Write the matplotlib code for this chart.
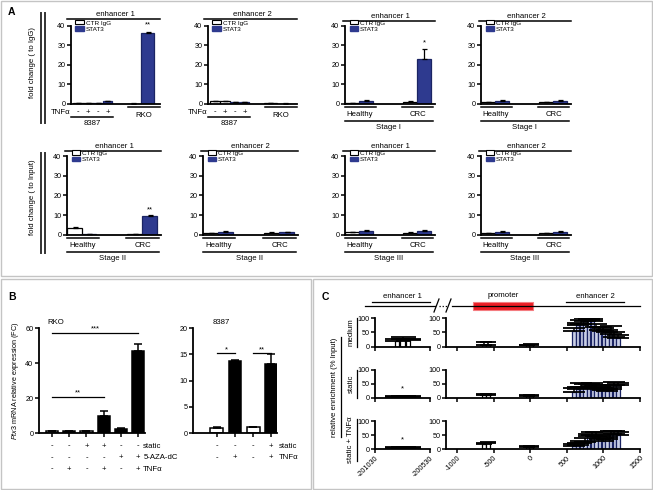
import matplotlib.pyplot as plt
import matplotlib.patches as mpatches
import numpy as np

plt.rcParams['font.family'] = ['Liberation Sans', 'DejaVu Sans']
plt.rcParams['axes.unicode_minus'] = False
plt.rcParams['mathtext.fontset'] = 'custom'
plt.rcParams['mathtext.it'] = 'Liberation Sans:italic'
plt.rcParams['mathtext.rm'] = 'Liberation Sans'

W, H = 653, 490
NAVY = '#2e3a8f'
NAVY_EDGE = '#1b2463'
LAV = '#c9cfe6'
FS = 5.6    # label text
TS = 5.2    # tick labels

# ---------------- panel A data ----------------
# 8387 bars: CTR IgG (TNFa -, +), STAT3 (TNFa -, +); RKO: CTR IgG, STAT3
tnf_signs = ['-', '+', '-', '+']
cell_e1 = [0.3, 0.3, 0.4, 1.2]
cell_e1_err = [0.05, 0.05, 0.1, 0.3]
rko_e1 = [0.1, 36.5]
rko_e1_err = [0.05, 0.5]
cell_e2 = [1.2, 1.3, 1.0, 1.0]
cell_e2_err = [0.1, 0.2, 0.1, 0.1]
rko_e2 = [0.3, 0.1]
rko_e2_err = [0.05, 0.05]

# tissue bars: Healthy CTR, Healthy STAT3, CRC CTR, CRC STAT3
stage1_e1 = [0.5, 1.5, 1.0, 23.0]
stage1_e1_err = [0.1, 0.4, 0.3, 5.0]
stage1_e2 = [1.0, 1.5, 1.0, 1.5]
stage1_e2_err = [0.1, 0.2, 0.1, 0.3]
stage2_e1 = [3.5, 0.5, 0.5, 9.5]
stage2_e1_err = [0.3, 0.1, 0.1, 0.5]
stage2_e2 = [1.0, 1.6, 1.1, 1.2]
stage2_e2_err = [0.1, 0.2, 0.1, 0.2]
stage3_e1 = [1.2, 2.0, 1.0, 1.8]
stage3_e1_err = [0.1, 0.3, 0.2, 0.4]
stage3_e2 = [1.0, 1.5, 0.8, 1.5]
stage3_e2_err = [0.1, 0.2, 0.1, 0.3]

# ---------------- panel B data ----------------
rko_expr = [1.0, 1.2, 1.0, 10.0, 2.5, 47.0]
rko_expr_err = [0.3, 0.2, 0.2, 2.5, 0.2, 4.0]
rko_static = ['-', '-', '+', '+', '-', '-']
rko_aza = ['-', '-', '-', '-', '+', '+']
rko_tnf = ['-', '+', '-', '+', '-', '+']
c8387_expr = [1.0, 13.7, 1.1, 13.1]
c8387_expr_err = [0.1, 0.2, 0.1, 1.9]
c8387_static = ['-', '-', '-', '+']
c8387_tnf = ['-', '+', '-', '+']

# ---------------- panel C data ----------------
enh1_pos = [-200830, -200780, -200730]
enh1_medium = [20, 26, 22]
enh1_medium_err = [6, 8, 5]
enh1_static = [3, 4, 3]
enh1_static_err = [2, 3, 2]
enh1_tnf = [4, 5, 4]
enh1_tnf_err = [2, 3, 2]

prom_pos = [-630, -575, -40, 10]
prom_medium = [5, 6, 5, 6]
prom_medium_err = [10, 9, 2, 3]
prom_static = [8, 9, 6, 7]
prom_static_err = [4, 5, 3, 3]
prom_tnf = [18, 20, 7, 8]
prom_tnf_err = [5, 4, 3, 4]

enh2_pos = [600, 650, 700, 750, 800, 850, 900, 950, 1000, 1050, 1100, 1150, 1200]
enh2_medium = [55, 75, 80, 90, 95, 90, 70, 60, 55, 50, 45, 35, 30]
enh2_medium_err = [10, 8, 15, 10, 5, 8, 10, 8, 12, 10, 28, 15, 12]
enh2_static = [20, 30, 40, 35, 40, 45, 35, 30, 28, 25, 30, 45, 45]
enh2_static_err = [15, 10, 12, 15, 10, 8, 10, 8, 6, 8, 10, 10, 8]
enh2_tnf = [10, 15, 20, 25, 45, 50, 45, 35, 30, 35, 55, 55, 50]
enh2_tnf_err = [8, 8, 10, 15, 10, 12, 15, 10, 8, 8, 10, 8, 10]

fig = plt.figure(figsize=(W / 100, H / 100), dpi=100)


def px_axes(x0, y0, x1, y1):
    ax = fig.add_axes([x0 / W, 1 - y1 / H, (x1 - x0) / W, (y1 - y0) / H])
    ax.patch.set_alpha(0)
    return ax


# overlay in pixel coords for frames / schematic
ov = fig.add_axes([0, 0, 1, 1])
ov.set_xlim(0, W)
ov.set_ylim(H, 0)
ov.axis('off')
for rect in [(1, 1, 651, 275), (1, 279, 310, 210), (313, 279, 339, 210)]:
    ov.add_patch(mpatches.Rectangle(rect[:2], rect[2], rect[3], fill=False,
                                    ec='#c4c4c4', lw=1))
ov.text(8, 12, 'A', fontsize=7.5, fontweight='bold', va='center')
ov.text(8, 297, 'B', fontsize=7.5, fontweight='bold', va='center')
ov.text(322, 297, 'C', fontsize=7.5, fontweight='bold', va='center')

# A y-labels with double bars
for yc, y0, y1, lab in [(63, 13, 123, 'fold change ( to IgG)'),
                        (197, 153, 253, 'fold change ( to Input)')]:
    ov.text(32, yc, lab, rotation=90, ha='center', va='center', fontsize=FS)
    ov.plot([41, 41], [y0, y1], color='#333333', lw=1.4)
    ov.plot([45, 45], [y0, y1], color='#333333', lw=1.4)


def style_a(ax):
    ax.set_xlim(0, 10)
    ax.set_ylim(0, 40)
    ax.spines[['top', 'right']].set_visible(False)
    ax.spines['left'].set_linewidth(1.3)
    ax.spines['bottom'].set_linewidth(1.3)
    ax.set_yticks([0, 10, 20, 30, 40])
    ax.set_xticks([])
    ax.tick_params(axis='y', length=3, width=1.1, labelsize=TS, pad=1)


def a_bars(ax, xs, vals, errs, colors, width):
    edges = ['k' if c == 'white' else NAVY_EDGE for c in colors]
    ax.bar(xs, vals, width=width, color=colors, edgecolor=edges, lw=0.9, zorder=2)
    ax.errorbar(xs, vals, yerr=[np.zeros(len(vals)), errs], fmt='none',
                ecolor='k', elinewidth=0.9, capsize=1.8, capthick=0.9, zorder=3)


def a_title(ax, text, x0, ly, ty):
    ax.plot([x0, 1.0], [ly, ly], color='k', lw=1.1, transform=ax.transAxes, clip_on=False)
    ax.text(0.5, ty, text, transform=ax.transAxes, ha='center', va='bottom', fontsize=FS)


def a_legend(ax):
    h = [mpatches.Patch(facecolor='white', edgecolor='k', lw=0.8, label='CTR IgG'),
         mpatches.Patch(facecolor=NAVY, edgecolor=NAVY, label='STAT3')]
    ax.legend(handles=h, loc='upper left', bbox_to_anchor=(0.05, 1.07), fontsize=4.6,
              frameon=False, handlelength=1.3, handleheight=0.6, handletextpad=0.3,
              labelspacing=0.15, borderaxespad=0, borderpad=0)


def bracket(ax, x0, x1, ly, label, ty):
    tr = ax.get_xaxis_transform()
    ax.plot([x0, x1], [ly, ly], color='k', lw=1.1, transform=tr, clip_on=False)
    ax.text((x0 + x1) / 2, ty, label, transform=tr, ha='center', va='center', fontsize=FS)


cell_x = [0.8, 1.9, 3.0, 4.1]
rko_x = [7.0, 8.6]
tissue_x = [0.8, 2.35, 7.2, 8.8]
cell_colors = ['white', 'white', NAVY, NAVY]
pair_colors = ['white', NAVY]
tissue_colors = ['white', NAVY, 'white', NAVY]

# row 1, cell lines
for (x0, x1), cvals, cerr, rvals, rerr, title in [
        ((71, 160), cell_e1, cell_e1_err, rko_e1, rko_e1_err, 'enhancer 1'),
        ((208, 297), cell_e2, cell_e2_err, rko_e2, rko_e2_err, 'enhancer 2')]:
    ax = px_axes(x0, 25.7, x1, 103.7)
    style_a(ax)
    a_bars(ax, cell_x, cvals, cerr, cell_colors, 1.05)
    a_bars(ax, rko_x, rvals, rerr, pair_colors, 1.5)
    a_title(ax, title, -0.05, 1.086, 1.10)
    a_legend(ax)
    tr = ax.get_xaxis_transform()
    ax.text(-0.1, -0.107, 'TNFα', transform=tr, ha='right', va='center', fontsize=FS)
    for x, s in zip(cell_x, tnf_signs):
        ax.text(x, -0.107, s, transform=tr, ha='center', va='center', fontsize=FS)
    bracket(ax, 6.4, 10, -0.042, 'RKO', -0.146)
    bracket(ax, 0, 4.7, -0.17, '8387', -0.26)
    if title == 'enhancer 1':
        ax.text(rko_x[1], 38.5, '**', ha='center', va='bottom', fontsize=FS)

# tissue panels
tissue_specs = [
    ((345, 435), (25.7, 103.7), stage1_e1, stage1_e1_err, 'enhancer 1', 'Stage I', '*', 29.5),
    ((481, 571), (25.7, 103.7), stage1_e2, stage1_e2_err, 'enhancer 2', 'Stage I', None, 0),
    ((67, 161), (156, 234.7), stage2_e1, stage2_e1_err, 'enhancer 1', 'Stage II', '**', 11),
    ((203, 298), (156, 234.7), stage2_e2, stage2_e2_err, 'enhancer 2', 'Stage II', None, 0),
    ((345, 435), (156, 234.7), stage3_e1, stage3_e1_err, 'enhancer 1', 'Stage III', None, 0),
    ((481, 571), (156, 234.7), stage3_e2, stage3_e2_err, 'enhancer 2', 'Stage III', None, 0),
]
for (x0, x1), (y0, y1), vals, errs, title, stage, star, sy in tissue_specs:
    ax = px_axes(x0, y0, x1, y1)
    style_a(ax)
    a_bars(ax, tissue_x, vals, errs, tissue_colors, 1.55)
    a_title(ax, title, -0.02, 1.06, 1.075)
    a_legend(ax)
    bracket(ax, -0.05, 3.4, -0.045, 'Healthy', -0.14)
    bracket(ax, 6.3, 9.8, -0.045, 'CRC', -0.14)
    bracket(ax, -0.05, 9.8, -0.22, stage, -0.30)
    if star:
        ax.text(tissue_x[3], sy, star, ha='center', va='bottom', fontsize=FS)


# ---------------- panel B ----------------
def style_b(ax, ymax, step, xlim):
    ax.set_xlim(*xlim)
    ax.set_ylim(0, ymax)
    ax.spines[['top', 'right']].set_visible(False)
    ax.spines['left'].set_linewidth(1.3)
    ax.spines['bottom'].set_linewidth(1.3)
    ax.set_yticks(np.arange(0, ymax + 1, step))
    ax.tick_params(axis='y', length=3, width=1.1, labelsize=TS, pad=1)
    ax.tick_params(axis='x', length=3, width=1.1, labelbottom=False)


def b_bars(ax, vals, errs, colors):
    xs = np.arange(len(vals))
    ax.bar(xs, vals, width=0.72, color=colors, edgecolor='k', lw=1.1, zorder=2)
    ax.errorbar(xs, vals, yerr=[np.zeros(len(vals)), errs], fmt='none',
                ecolor='k', elinewidth=1.1, capsize=2.8, capthick=1.1, zorder=3)
    ax.set_xticks(xs)


def sig(ax, x0, x1, y, label):
    ax.plot([x0, x1], [y, y], color='k', lw=0.9, clip_on=False)
    ax.text((x0 + x1) / 2, y, label, ha='center', va='bottom', fontsize=FS)


ax = px_axes(39, 328, 145, 433)
style_b(ax, 60, 20, (-0.76, 5.4))
b_bars(ax, rko_expr, rko_expr_err, ['white', 'k', 'white', 'k', 'k', 'k'])
ax.set_ylabel(r'$\it{Ptx3}$ mRNA relative expression (FC)', fontsize=5.2)
ax.yaxis.set_label_coords(-0.17, 0.5)
ax.text(0.075, 1.057, 'RKO', transform=ax.transAxes, fontsize=FS, va='center')
sig(ax, 0, 5, 57.3, '***')
sig(ax, 0, 3, 20.7, '**')
tr = ax.get_xaxis_transform()
for yy, signs, lab in [(-0.124, rko_static, 'static'), (-0.238, rko_aza, '5-AZA-dC'),
                       (-0.343, rko_tnf, 'TNFα')]:
    for x, s in enumerate(signs):
        ax.text(x, yy, s, transform=tr, ha='center', va='center', fontsize=FS)
    ax.text(5.3, yy, lab, transform=tr, ha='left', va='center', fontsize=FS)

ax = px_axes(193, 328, 277, 433)
style_b(ax, 20, 5, (-1.33, 3.33))
b_bars(ax, c8387_expr, c8387_expr_err, ['white', 'k', 'white', 'k'])
ax.text(0.23, 1.057, '8387', transform=ax.transAxes, fontsize=FS, va='center')
sig(ax, 0, 1, 15.2, '*')
sig(ax, 2, 3, 15.2, '**')
tr = ax.get_xaxis_transform()
for yy, signs, lab in [(-0.124, c8387_static, 'static'), (-0.238, c8387_tnf, 'TNFα')]:
    for x, s in enumerate(signs):
        ax.text(x, yy, s, transform=tr, ha='center', va='center', fontsize=FS)
    ax.text(3.44, yy, lab, transform=tr, ha='left', va='center', fontsize=FS)

# ---------------- panel C ----------------
# schematic
ov.plot([365, 435], [305.7, 305.7], color='k', lw=0.9)
ov.plot([452, 640], [305.7, 305.7], color='k', lw=0.9)
ov.plot([434, 439], [312, 299], color='k', lw=0.9)
ov.plot([446, 451], [312, 299], color='k', lw=0.9)
ov.plot([439, 447], [305.7, 305.7], color='k', lw=0.9, ls=(0, (1, 1.5)))
ov.add_patch(mpatches.Rectangle((473, 301.5), 60, 8.5, fc='#ec1c24', ec='#f47c80', lw=0.8))
ov.text(503, 295, 'promoter', ha='center', va='center', fontsize=FS)
ov.text(402, 296, 'enhancer 1', ha='center', va='center', fontsize=FS)
ov.plot([372, 430], [301.7, 301.7], color='k', lw=0.9)
ov.text(595, 296, 'enhancer 2', ha='center', va='center', fontsize=FS)
ov.plot([566, 624], [301.7, 301.7], color='k', lw=0.9)

ov.text(335, 387, 'relative enrichment (% Input)', rotation=90, ha='center',
        va='center', fontsize=FS)
ov.plot([341, 341], [337, 437], color='k', lw=0.9)
row_y = [(318.3, 346.7), (370, 397.7), (421, 449)]
for (y0, y1), lab, (ly0, ly1) in zip(row_y, ['medium', 'static', 'static + TNFα'],
                                     [(318, 347), (370, 398), (419, 461)]):
    ov.text(351, (ly0 + ly1) / 2, lab, rotation=90, ha='center', va='center', fontsize=FS)
    ov.plot([357, 357], [ly0, ly1], color='k', lw=0.9)


def style_c(ax, xlim, xticks, bottom):
    ax.set_xlim(*xlim)
    ax.set_ylim(0, 100)
    ax.spines[['top', 'right']].set_visible(False)
    ax.spines['left'].set_linewidth(1.3)
    ax.spines['bottom'].set_linewidth(1.3)
    ax.set_yticks([0, 50, 100])
    ax.set_xticks(xticks)
    ax.tick_params(length=3, width=1.1, labelsize=TS, pad=1)
    if bottom:
        plt.setp(ax.get_xticklabels(), rotation=45, ha='right', rotation_mode='anchor')
    else:
        ax.tick_params(axis='x', labelbottom=False)


def c_bars(ax, xs, vals, errs, fc, ec, width, cap):
    ax.bar(xs, vals, width=width, color=fc, edgecolor=ec, lw=0.9, zorder=2)
    ax.errorbar(xs, vals, yerr=[np.zeros(len(vals)), errs], fmt='none', ecolor='k',
                elinewidth=1.1, capsize=cap, capthick=1.3, zorder=3)


enh1_rows = [(enh1_medium, enh1_medium_err), (enh1_static, enh1_static_err),
             (enh1_tnf, enh1_tnf_err)]
prom_rows = [(prom_medium, prom_medium_err), (prom_static, prom_static_err),
             (prom_tnf, prom_tnf_err)]
enh2_rows = [(enh2_medium, enh2_medium_err), (enh2_static, enh2_static_err),
             (enh2_tnf, enh2_tnf_err)]

for i, (y0, y1) in enumerate(row_y):
    bottom = i == 2
    axl = px_axes(375, y0, 430, y1)
    style_c(axl, (-201030, -200530), [-201030, -200530], bottom)
    c_bars(axl, enh1_pos, enh1_rows[i][0], enh1_rows[i][1], 'white', 'k', 40, 9)
    if i > 0:
        axl.text(-200778, 20, '*', ha='center', va='bottom', fontsize=FS)
    axr = px_axes(446, y0, 640, y1)
    style_c(axr, (-1150, 1500), [-1000, -500, 0, 500, 1000, 1500], bottom)
    c_bars(axr, prom_pos, prom_rows[i][0], prom_rows[i][1], 'white', 'k', 45, 6)
    c_bars(axr, enh2_pos, enh2_rows[i][0], enh2_rows[i][1], LAV, NAVY_EDGE, 45, 8)

fig.savefig('out.png', dpi=100)
